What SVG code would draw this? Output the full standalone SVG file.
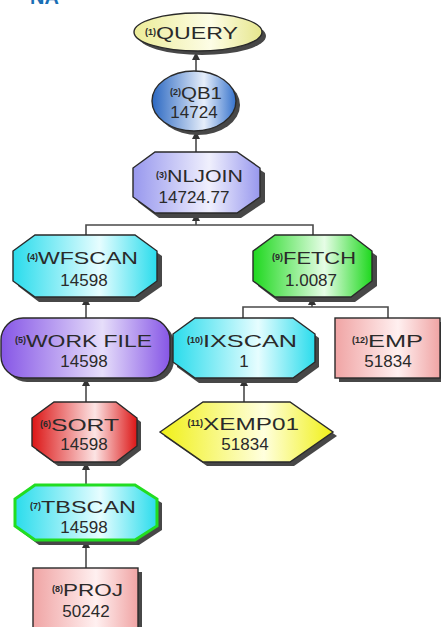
<svg xmlns="http://www.w3.org/2000/svg" width="441" height="627" viewBox="0 0 441 627">
  <defs>
    <linearGradient id="gQuery" x1="0" y1="0" x2="1" y2="0">
      <stop offset="0" stop-color="#ecec98"/><stop offset="0.6" stop-color="#fdfde6"/><stop offset="1" stop-color="#e6e68c"/>
    </linearGradient>
    <linearGradient id="gBlue" x1="0" y1="0" x2="1" y2="0">
      <stop offset="0" stop-color="#2b68c2"/><stop offset="0.62" stop-color="#e6eefa"/><stop offset="1" stop-color="#3572cc"/>
    </linearGradient>
    <linearGradient id="gLav" x1="0" y1="0" x2="1" y2="0">
      <stop offset="0" stop-color="#9898ee"/><stop offset="0.6" stop-color="#f0f0fd"/><stop offset="1" stop-color="#9898ee"/>
    </linearGradient>
    <linearGradient id="gCyan" x1="0" y1="0" x2="1" y2="0">
      <stop offset="0" stop-color="#2adcec"/><stop offset="0.6" stop-color="#e6fdff"/><stop offset="1" stop-color="#2adcec"/>
    </linearGradient>
    <linearGradient id="gGreen" x1="0" y1="0" x2="1" y2="0">
      <stop offset="0" stop-color="#1ed81e"/><stop offset="0.6" stop-color="#e6fde6"/><stop offset="1" stop-color="#1ed81e"/>
    </linearGradient>
    <linearGradient id="gPurple" x1="0" y1="0" x2="1" y2="0">
      <stop offset="0" stop-color="#8656e6"/><stop offset="0.6" stop-color="#e6defa"/><stop offset="1" stop-color="#8656e6"/>
    </linearGradient>
    <linearGradient id="gPink" x1="0" y1="0" x2="1" y2="0">
      <stop offset="0" stop-color="#f0a4a4"/><stop offset="0.6" stop-color="#fff0f0"/><stop offset="1" stop-color="#f0a4a4"/>
    </linearGradient>
    <linearGradient id="gRed" x1="0" y1="0" x2="1" y2="0">
      <stop offset="0" stop-color="#dc1616"/><stop offset="0.6" stop-color="#fce4e4"/><stop offset="1" stop-color="#dc1616"/>
    </linearGradient>
    <linearGradient id="gYellow" x1="0" y1="0" x2="1" y2="0">
      <stop offset="0" stop-color="#f0f016"/><stop offset="0.6" stop-color="#ffffde"/><stop offset="1" stop-color="#f0f016"/>
    </linearGradient>
    <marker id="arr" viewBox="0 0 10 10" refX="10" refY="5" markerWidth="8" markerHeight="8" markerUnits="userSpaceOnUse" orient="auto">
      <path d="M0,0 L10,5 L0,10 z" fill="#333"/>
    </marker>
  </defs>
  <style>
    .sh { fill: #474747; }
    .ol { stroke: #2a2a2a; stroke-width: 1.4; }
    .l { font-family: "Liberation Sans", Arial, sans-serif; font-size: 17px; fill: #2a2a2a; }
    .v { font-family: "Liberation Sans", Arial, sans-serif; font-size: 17px; fill: #2a2a2a; text-anchor: middle; }
    .p { font-family: "Liberation Sans", Arial, sans-serif; font-size: 9px; font-weight: bold; fill: #2a2a2a; text-anchor: end; }
    .ln { fill: none; stroke: #4a4a4a; stroke-width: 1.6; }
  </style>

  <!-- heading fragment cut off at the top edge -->
  <text x="30" y="4" style="font-family:'Liberation Sans',Arial,sans-serif;font-size:20px;font-weight:bold;fill:#1a6fb5">NA</text>

  <!-- connectors -->
  <g id="connectors">
    <line class="ln" x1="196" y1="72" x2="196" y2="52" marker-end="url(#arr)"/>
    <line class="ln" x1="196" y1="152" x2="196" y2="131" marker-end="url(#arr)"/>
    <polyline class="ln" points="86,235 86,225 313,225 313,235"/>
    <line class="ln" x1="196" y1="225" x2="196" y2="213" marker-end="url(#arr)"/>
    <line class="ln" x1="86" y1="318" x2="86" y2="297" marker-end="url(#arr)"/>
    <polyline class="ln" points="243,318 243,307 388,307 388,318"/>
    <line class="ln" x1="312" y1="307" x2="312" y2="297" marker-end="url(#arr)"/>
    <line class="ln" x1="86" y1="402" x2="86" y2="378" marker-end="url(#arr)"/>
    <line class="ln" x1="244" y1="402" x2="244" y2="378" marker-end="url(#arr)"/>
    <line class="ln" x1="86" y1="485" x2="86" y2="462" marker-end="url(#arr)"/>
    <line class="ln" x1="86" y1="568" x2="86" y2="540" marker-end="url(#arr)"/>
  </g>

  <!-- (1) QUERY -->
  <g id="n1">
    <ellipse class="sh" cx="202" cy="36" rx="64" ry="19"/>
    <ellipse class="ol" cx="198" cy="32" rx="64" ry="19" fill="url(#gQuery)"/>
    <text class="p" x="156" y="35">(1)</text>
    <text class="l" x="156" y="39" textLength="82" lengthAdjust="spacingAndGlyphs">QUERY</text>
  </g>

  <!-- (2) QB1 -->
  <g id="n2">
    <ellipse class="sh" cx="198" cy="105" rx="42" ry="30"/>
    <ellipse class="ol" cx="194" cy="101" rx="42" ry="30" fill="url(#gBlue)"/>
    <text class="p" x="181" y="95">(2)</text>
    <text class="l" x="181" y="99" textLength="41" lengthAdjust="spacingAndGlyphs">QB1</text>
    <text class="v" x="194" y="118">14724</text>
  </g>

  <!-- (3) NLJOIN -->
  <g id="n3">
    <polygon class="sh" points="159,157 241,157 265,173 265,202 241,218 159,218 138,202 138,173"/>
    <polygon class="ol" points="155,152 237,152 260,168 260,197 237,213 155,213 133,197 133,168" fill="url(#gLav)"/>
    <text class="p" x="167" y="178">(3)</text>
    <text class="l" x="167" y="182" textLength="76" lengthAdjust="spacingAndGlyphs">NLJOIN</text>
    <text class="v" x="194" y="203">14724.77</text>
  </g>

  <!-- (4) WFSCAN -->
  <g id="n4">
    <polygon class="sh" points="39,240 139,240 162,256 162,286 139,302 39,302 18,286 18,256"/>
    <polygon class="ol" points="35,235 135,235 157,251 157,281 135,297 35,297 13,281 13,251" fill="url(#gCyan)"/>
    <text class="p" x="38" y="260">(4)</text>
    <text class="l" x="38" y="264" textLength="100" lengthAdjust="spacingAndGlyphs">WFSCAN</text>
    <text class="v" x="84" y="286">14598</text>
  </g>

  <!-- (9) FETCH -->
  <g id="n9">
    <polygon class="sh" points="279,240 355,240 377,256 377,286 355,302 279,302 258,286 258,256"/>
    <polygon class="ol" points="275,235 351,235 372,251 372,281 351,297 275,297 253,281 253,251" fill="url(#gGreen)"/>
    <text class="p" x="283" y="260">(9)</text>
    <text class="l" x="283" y="264" textLength="73" lengthAdjust="spacingAndGlyphs">FETCH</text>
    <text class="v" x="311" y="286">1.0087</text>
  </g>

  <!-- (5) WORK FILE -->
  <g id="n5">
    <rect class="sh" x="5" y="322" width="169" height="60" rx="22"/>
    <rect class="ol" x="1" y="318" width="169" height="60" rx="22" fill="url(#gPurple)"/>
    <text class="p" x="26" y="343">(5)</text>
    <text class="l" x="26" y="347" textLength="126" lengthAdjust="spacingAndGlyphs">WORK FILE</text>
    <text class="v" x="84" y="367">14598</text>
  </g>

  <!-- (10) IXSCAN -->
  <g id="n10">
    <polygon class="sh" points="199,322 297,322 319,338 319,367 297,383 199,383 177,367 177,338"/>
    <polygon class="ol" points="195,318 293,318 315,334 315,362 293,378 195,378 173,362 173,334" fill="url(#gCyan)"/>
    <text class="p" x="203" y="343">(10)</text>
    <text class="l" x="203" y="347" textLength="94" lengthAdjust="spacingAndGlyphs">IXSCAN</text>
    <text class="v" x="244" y="367">1</text>
  </g>

  <!-- (12) EMP -->
  <g id="n12">
    <rect class="sh" x="339" y="322" width="105" height="60"/>
    <rect class="ol" x="335" y="318" width="105" height="60" fill="url(#gPink)"/>
    <text class="p" x="368" y="343">(12)</text>
    <text class="l" x="368" y="347" textLength="55" lengthAdjust="spacingAndGlyphs">EMP</text>
    <text class="v" x="388" y="367">51834</text>
  </g>

  <!-- (6) SORT -->
  <g id="n6">
    <polygon class="sh" points="58,406 120,406 141,422 141,450 120,466 58,466 36,450 36,422"/>
    <polygon class="ol" points="54,402 116,402 137,418 137,446 116,462 54,462 32,446 32,418" fill="url(#gRed)"/>
    <text class="p" x="51" y="427">(6)</text>
    <text class="l" x="51" y="431" textLength="68" lengthAdjust="spacingAndGlyphs">SORT</text>
    <text class="v" x="84" y="450">14598</text>
  </g>

  <!-- (11) XEMP01 -->
  <g id="n11">
    <polygon class="sh" points="164,436 207,406 294,406 337,436 294,466 207,466"/>
    <polygon class="ol" points="160,432 203,402 290,402 333,432 290,462 203,462" fill="url(#gYellow)"/>
    <text class="p" x="203" y="426">(11)</text>
    <text class="l" x="203" y="430" textLength="96" lengthAdjust="spacingAndGlyphs">XEMP01</text>
    <text class="v" x="245" y="450">51834</text>
  </g>

  <!-- (7) TBSCAN -->
  <g id="n7">
    <polygon class="sh" points="39,489 139,489 162,503 162,530 139,545 39,545 19,530 19,503"/>
    <polygon points="35,485 135,485 157,499 157,526 135,540 35,540 15,526 15,499" fill="url(#gCyan)" stroke="#22dd22" stroke-width="3"/>
    <text class="p" x="41" y="509">(7)</text>
    <text class="l" x="41" y="513" textLength="95" lengthAdjust="spacingAndGlyphs">TBSCAN</text>
    <text class="v" x="84" y="533">14598</text>
  </g>

  <!-- (8) PROJ -->
  <g id="n8">
    <rect class="sh" x="37" y="572" width="105" height="62"/>
    <rect class="ol" x="33" y="568" width="105" height="62" fill="url(#gPink)"/>
    <text class="p" x="63" y="592">(8)</text>
    <text class="l" x="63" y="596" textLength="60" lengthAdjust="spacingAndGlyphs">PROJ</text>
    <text class="v" x="86" y="617">50242</text>
  </g>
</svg>
